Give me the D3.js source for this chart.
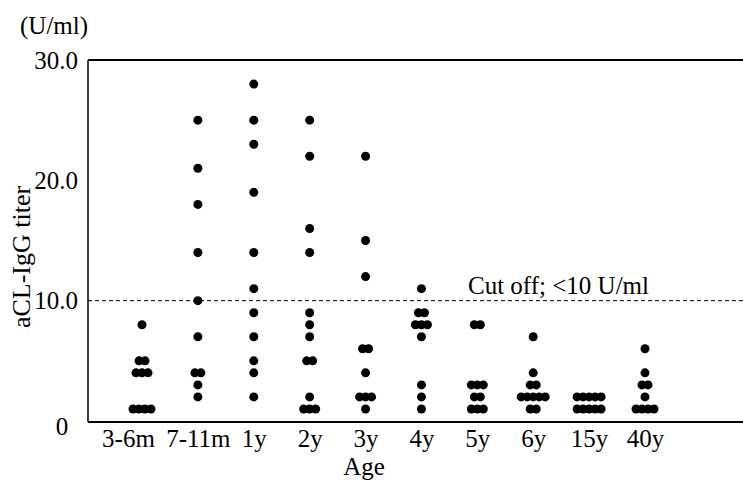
<!DOCTYPE html>
<html>
<head>
<meta charset="utf-8">
<script src="https://cdn.jsdelivr.net/npm/d3@7"></script>
<style>
  body { margin: 0; background: #fff; }
  svg text { font-family: "Liberation Serif", "Times New Roman", serif; fill: #000; }
</style>
</head>
<body>
<div id="chart"></div>
<script>
// aCL-IgG titer (U/ml) per child, grouped by age
var categories = ["3-6m", "7-11m", "1y", "2y", "3y", "4y", "5y", "6y", "15y", "40y"];

var age3to6m  = [8, 5, 5, 4, 4, 4, 1, 1, 1, 1];
var age7to11m = [25, 21, 18, 14, 10, 7, 4, 4, 3, 2];
var age1y     = [28, 25, 23, 19, 14, 11, 9, 7, 5, 4, 2];
var age2y     = [25, 22, 16, 14, 9, 8, 7, 5, 5, 2, 1, 1, 1];
var age3y     = [22, 15, 12, 6, 6, 4, 2, 2, 2, 1];
var age4y     = [11, 9, 9, 8, 8, 8, 7, 3, 2, 1];
var age5y     = [8, 8, 3, 3, 3, 2, 2, 1, 1, 1];
var age6y     = [7, 4, 3, 3, 2, 2, 2, 2, 2, 1, 1];
var age15y    = [2, 2, 2, 2, 2, 1, 1, 1, 1, 1];
var age40y    = [6, 4, 3, 3, 2, 1, 1, 1, 1];

var titers = [age3to6m, age7to11m, age1y, age2y, age3y, age4y, age5y, age6y, age15y, age40y];

var yTicks = [0, 10, 20, 30];
var yTickLabels = ["0", "10.0", "20.0", "30.0"];
var cutOff = 10;

var serif = "'Liberation Serif', 'Times New Roman', serif";

var margin = {top: 60, right: 0, bottom: 61, left: 88},
    width = 743 - margin.left - margin.right,
    height = 482 - margin.top - margin.bottom;

var svg = d3.select("#chart").append("svg")
    .attr("width", 743)
    .attr("height", 482)
    .attr("font-family", serif);

var g = svg.append("g").attr("transform", "translate(" + margin.left + "," + margin.top + ")");

var x = d3.scalePoint()
    .domain(categories)
    .range([54, 557]);

var y = d3.scaleLinear()
    .domain([0, 30])
    .range([height, 0]);

// y axis: labels only, line drawn by hand
var yAxis = g.append("g")
    .call(d3.axisLeft(y).tickValues(yTicks).tickSize(0).tickPadding(10)
      .tickFormat(function(d, i) { return yTickLabels[i]; }))
    .attr("font-family", serif)
    .attr("font-size", 25);
yAxis.select(".domain").remove();
yAxis.selectAll("text")
    .attr("text-anchor", "middle")
    .attr("x", -32)
    .attr("dy", "0.32em");
yAxis.selectAll(".tick").filter(function(d) { return d === 0; }).select("text")
    .attr("x", -26).attr("dy", "0.55em");

// frame: top line, left line, bottom line
g.append("line")
    .attr("x1", 0).attr("x2", width)
    .attr("y1", y(30)).attr("y2", y(30))
    .attr("stroke", "#000").attr("stroke-width", 2);
g.append("line")
    .attr("x1", 0).attr("x2", 0)
    .attr("y1", y(30)).attr("y2", height + 1)
    .attr("stroke", "#000").attr("stroke-width", 1.5);
g.append("line")
    .attr("x1", 0).attr("x2", width)
    .attr("y1", height + 1).attr("y2", height + 1)
    .attr("stroke", "#000").attr("stroke-width", 2);

// cut off line
g.append("line")
    .attr("x1", 0).attr("x2", width)
    .attr("y1", y(cutOff)).attr("y2", y(cutOff))
    .attr("stroke", "#000").attr("stroke-width", 1)
    .attr("stroke-dasharray", "4,3");
g.append("text")
    .attr("x", 380)
    .attr("y", y(cutOff) - 7)
    .attr("font-size", 25)
    .text("Cut off; <10 U/ml");

// x axis labels
var xAxis = g.append("g")
    .attr("transform", "translate(0," + height + ")")
    .call(d3.axisBottom(x).tickSize(0).tickPadding(8))
    .attr("font-family", serif)
    .attr("font-size", 25);
xAxis.select(".domain").remove();
xAxis.selectAll("text")
    .attr("dy", "0.71em");
xAxis.selectAll(".tick").filter(function(d) { return d === "3-6m"; }).select("text")
    .attr("dx", -14);

// dots, equal values side by side
var dots = [];
titers.forEach(function(vals, ci) {
  var counts = d3.rollup(vals, function(v) { return v.length; }, function(d) { return d; });
  counts.forEach(function(n, v) {
    for (var k = 0; k < n; k++) {
      dots.push({cat: categories[ci], value: v, off: (k - (n - 1) / 2) * 6});
    }
  });
});

g.append("g")
  .selectAll("circle")
  .data(dots)
  .enter().append("circle")
    .attr("cx", function(d) { return x(d.cat) + d.off; })
    .attr("cy", function(d) { return y(d.value); })
    .attr("r", 4.5)
    .attr("fill", "#000");

// titles
svg.append("text")
    .attr("x", 20)
    .attr("y", 34)
    .attr("font-size", 25)
    .text("(U/ml)");

svg.append("text")
    .attr("transform", "translate(30,257) rotate(-90)")
    .attr("text-anchor", "middle")
    .attr("font-size", 26)
    .text("aCL-IgG titer");

svg.append("text")
    .attr("x", 364)
    .attr("y", 475)
    .attr("text-anchor", "middle")
    .attr("font-size", 25)
    .text("Age");
</script>
</body>
</html>
